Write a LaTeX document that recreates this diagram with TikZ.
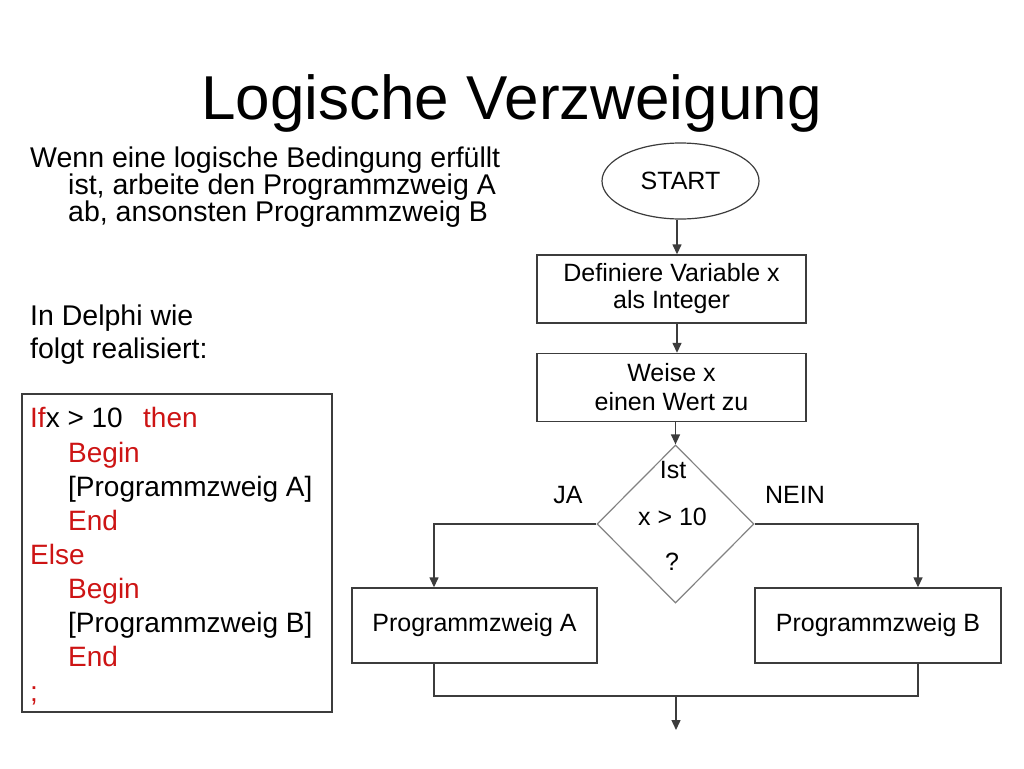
\documentclass[tikz,border=0pt]{standalone}
\usepackage{fontspec}
\setmainfont{Liberation Sans}
\usetikzlibrary{shapes.geometric,arrows.meta}
\newcommand\myfs[2]{\fontsize{#1}{#2}\selectfont}
\definecolor{kred}{RGB}{205,20,20}
\definecolor{frame}{RGB}{60,60,60}
\definecolor{dgray}{RGB}{130,130,130}
\tikzset{
  box/.style={draw=frame, line width=1.4pt, rectangle, inner sep=0pt, align=center, font=\myfs{25}{27}},
  oval/.style={draw=frame, line width=1.2pt, ellipse, inner sep=0pt, font=\myfs{25}{27}},
  dec/.style={draw=dgray, line width=1.2pt, diamond, inner sep=0pt},
  lbl/.style={inner sep=0pt, font=\myfs{25}{27}, anchor=base},
  body/.style={inner sep=0pt, font=\myfs{28.5}{28}, anchor=base west},
  code/.style={inner sep=0pt, font=\myfs{28}{28}, anchor=base west},
  conn/.style={draw=frame, line width=1.4pt},
  arr/.style={conn, -{Triangle[length=10pt,width=9pt]}},
}
\begin{document}
\begin{tikzpicture}[x=1pt,y=-1pt]
\useasboundingbox[fill=white] (0,0) rectangle (1024,768);

% title
\node[inner sep=0pt, anchor=base, font=\myfs{62}{62}] (title) at (511.5,119) {Logische Verzweigung};

% left text
\node[body] (t1) at (30,167) {Wenn eine logische Bedingung erfüllt};
\node[body] (t2) at (68,194) {ist, arbeite den Programmzweig A};
\node[body] (t3) at (68,221) {ab, ansonsten Programmzweig B};
\node[body] (t4) at (30,325) {In Delphi wie};
\node[body] (t5) at (30,358) {folgt realisiert:};

% code box
\node[draw=frame, line width=1.2pt, minimum width=310, minimum height=318, inner sep=0pt] (codebox) at (177,553) {};
\node[code] (c1) at (30,427) {\textcolor{kred}{If}x > 10\hspace{0.45em} \textcolor{kred}{then}};
\node[code, text=kred] (c2) at (68,462) {Begin};
\node[code] (c3) at (68,496) {[Programmzweig A]};
\node[code, text=kred] (c4) at (68,530) {End};
\node[code, text=kred] (c5) at (30,564) {Else};
\node[code, text=kred] (c6) at (68,598) {Begin};
\node[code] (c7) at (68,632) {[Programmzweig B]};
\node[code, text=kred] (c8) at (68,666) {End};
\node[code, text=kred] (c9) at (30,701) {;};

% flowchart
\node[oval, minimum width=157, minimum height=76] (start) at (680.5,181) {START};
\node[box, minimum width=269, minimum height=68] (def) at (671.5,289) {Definiere Variable x\\als Integer};
\node[box, minimum width=269, minimum height=68] (wz) at (671.5,387.5) {Weise x\\[2pt]einen Wert zu};
\node[dec, minimum width=157, minimum height=158] (d) at (675.5,524) {};
\node[lbl] (ist) at (673,478) {Ist};
\node[lbl] (cond) at (672.5,525) {x > 10};
\node[lbl] (q) at (672,570) {?};
\node[lbl] (ja) at (568,503) {JA};
\node[lbl] (nein) at (795,503) {NEIN};
\node[box, minimum width=245, minimum height=75] (pa) at (474.5,625.5) {Programmzweig A};
\node[box, minimum width=246, minimum height=75] (pb) at (878,625.5) {Programmzweig B};

\coordinate (cx) at (677,0);
\coordinate (la) at (434,0);
\coordinate (rb) at (918,0);
\coordinate (m) at (676,696);
\coordinate (endp) at (676,730);

\draw[arr] (start.south -| cx) -- (def.north -| cx);
\draw[arr] (def.south -| cx) -- (wz.north -| cx);
\draw[arr] (wz.south -| d.north) -- (d.north);
\draw[arr] (d.west) -- (d.west -| la) -- (pa.north -| la);
\draw[arr] (d.east) -- (d.east -| rb) -- (pb.north -| rb);
\draw[conn] (pa.south -| la) -- (m -| la) -- (m -| rb) -- (pb.south -| rb);
\draw[arr] (m) -- (endp);
\end{tikzpicture}
\end{document}
